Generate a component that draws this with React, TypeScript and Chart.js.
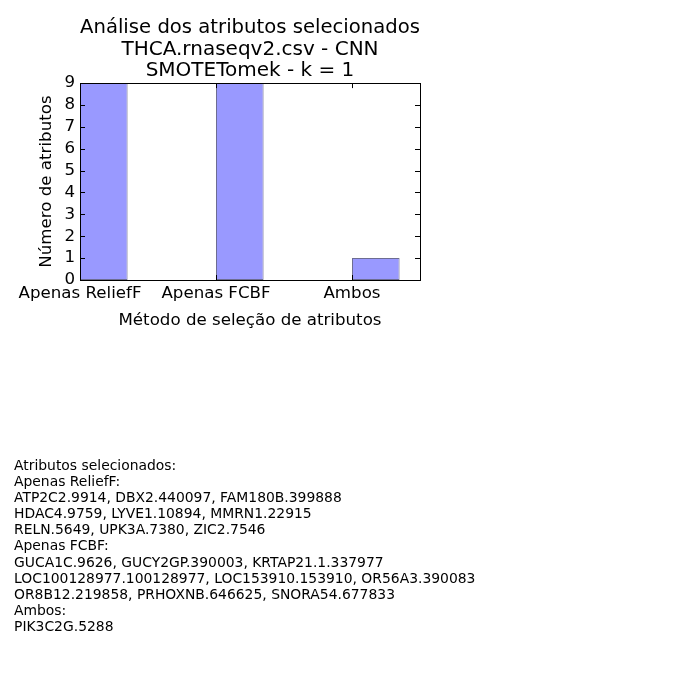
import React, { useEffect, useRef } from "react";
import { Chart, registerables } from "chart.js";

Chart.register(...registerables);

const TITLE_LINES = [
  "Análise dos atributos selecionados",
  "THCA.rnaseqv2.csv - CNN",
  "SMOTETomek - k = 1",
];
const CATEGORIES = ["Apenas ReliefF", "Apenas FCBF", "Ambos"];
const CATEGORY_POS = [0, 1, 2];
const COUNTS = [9, 9, 1];
const BAR_WIDTH = 0.35;
const Y_TICKS = [0, 1, 2, 3, 4, 5, 6, 7, 8, 9];
const X_LABEL = "Método de seleção de atributos";
const Y_LABEL = "Número de atributos";

const NOTE_LINES = [
  "Atributos selecionados:",
  "Apenas ReliefF:",
  "ATP2C2.9914, DBX2.440097, FAM180B.399888",
  "HDAC4.9759, LYVE1.10894, MMRN1.22915",
  "RELN.5649, UPK3A.7380, ZIC2.7546",
  "Apenas FCBF:",
  "GUCA1C.9626, GUCY2GP.390003, KRTAP21.1.337977",
  "LOC100128977.100128977, LOC153910.153910, OR56A3.390083",
  "OR8B12.219858, PRHOXNB.646625, SNORA54.677833",
  "Ambos:",
  "PIK3C2G.5288",
];

const FONT = "'DejaVu Sans', sans-serif";

const frameAndTicks = {
  id: "frameAndTicks",
  afterDatasetsDraw(chart: any) {
    const { ctx, chartArea } = chart;
    const { left, right, top, bottom } = chartArea;
    const xs = chart.scales.x;
    const ys = chart.scales.y;
    const len = 5;
    ctx.save();
    ctx.strokeStyle = "#000";
    ctx.lineWidth = 1;
    ctx.beginPath();
    for (const v of Y_TICKS) {
      const y = Math.round(ys.getPixelForValue(v)) + 0.5;
      ctx.moveTo(left, y);
      ctx.lineTo(left + len, y);
      ctx.moveTo(right, y);
      ctx.lineTo(right - len, y);
    }
    for (const v of CATEGORY_POS) {
      const x = Math.round(xs.getPixelForValue(v)) + 0.5;
      ctx.moveTo(x, bottom);
      ctx.lineTo(x, bottom - len);
      ctx.moveTo(x, top);
      ctx.lineTo(x, top + len);
    }
    ctx.stroke();
    ctx.strokeRect(
      Math.round(left) + 0.5,
      Math.round(top) + 0.5,
      Math.round(right - left),
      Math.round(bottom - top)
    );
    ctx.restore();
  },
};

export default function App() {
  const ref = useRef<HTMLCanvasElement>(null);

  useEffect(() => {
    if (!ref.current) return;
    Chart.defaults.font.family = FONT;
    Chart.defaults.color = "#000";
    const chart = new Chart(ref.current, {
      type: "bar",
      data: {
        datasets: [
          {
            data: CATEGORY_POS.map((p, i) => ({ x: p + BAR_WIDTH / 2, y: COUNTS[i] })),
            backgroundColor: "#9999ff",
            borderColor: "rgba(60,60,110,0.75)",
            borderWidth: 1,
            borderSkipped: false,
            categoryPercentage: 1,
            barPercentage: BAR_WIDTH,
          } as any,
        ],
      },
      options: {
        animation: false,
        responsive: false,
        layout: { padding: { left: 0, right: 280, top: 0, bottom: 360 } },
        plugins: {
          legend: { display: false },
          tooltip: { enabled: false },
          title: {
            display: true,
            fullSize: false,
            text: TITLE_LINES,
            color: "#000",
            font: { size: 20, weight: "normal", lineHeight: 1.085, family: FONT },
            padding: { top: 17, bottom: 1 },
          },
        },
        scales: {
          x: {
            type: "linear",
            offset: false,
            min: 0,
            max: 2.5,
            grid: { display: false, drawTicks: false, offset: false },
            border: { display: false },
            afterBuildTicks: (scale: any) => {
              scale.ticks = CATEGORY_POS.map((v) => ({ value: v }));
            },
            afterFit: (scale: any) => {
              scale.height = 60;
            },
            ticks: {
              autoSkip: false,
              maxRotation: 0,
              padding: 4,
              font: { size: 16.67 },
              callback: (_v: any, i: number) => CATEGORIES[i],
            },
            title: {
              display: true,
              text: X_LABEL,
              font: { size: 16.67 },
              padding: { top: 0, bottom: 9 },
            },
          },
          y: {
            min: 0,
            max: 9,
            grid: { display: false, drawTicks: false },
            border: { display: false },
            afterBuildTicks: (scale: any) => {
              scale.ticks = Y_TICKS.map((v) => ({ value: v }));
            },
            afterFit: (scale: any) => {
              scale.width = 80;
            },
            ticks: {
              autoSkip: false,
              padding: 5,
              font: { size: 16.67 },
            },
            title: {
              display: true,
              text: Y_LABEL,
              font: { size: 16.67 },
              padding: { top: 37, bottom: 0 },
            },
          },
        },
      } as any,
      plugins: [frameAndTicks],
    });
    return () => chart.destroy();
  }, []);

  return (
    <div style={{ position: "absolute", left: 0, top: 0, width: 700, height: 700, background: "#fff" }}>
      <canvas ref={ref} width={700} height={700} style={{ position: "absolute", left: 0, top: 0 }} />
      <div
        style={{
          position: "absolute",
          left: 14,
          top: 457,
          fontFamily: FONT,
          fontSize: "13.9px",
          lineHeight: "16.1px",
          color: "#000",
          whiteSpace: "pre",
        }}
      >
        {NOTE_LINES.map((l, i) => (
          <div key={i}>{l}</div>
        ))}
      </div>
    </div>
  );
}
